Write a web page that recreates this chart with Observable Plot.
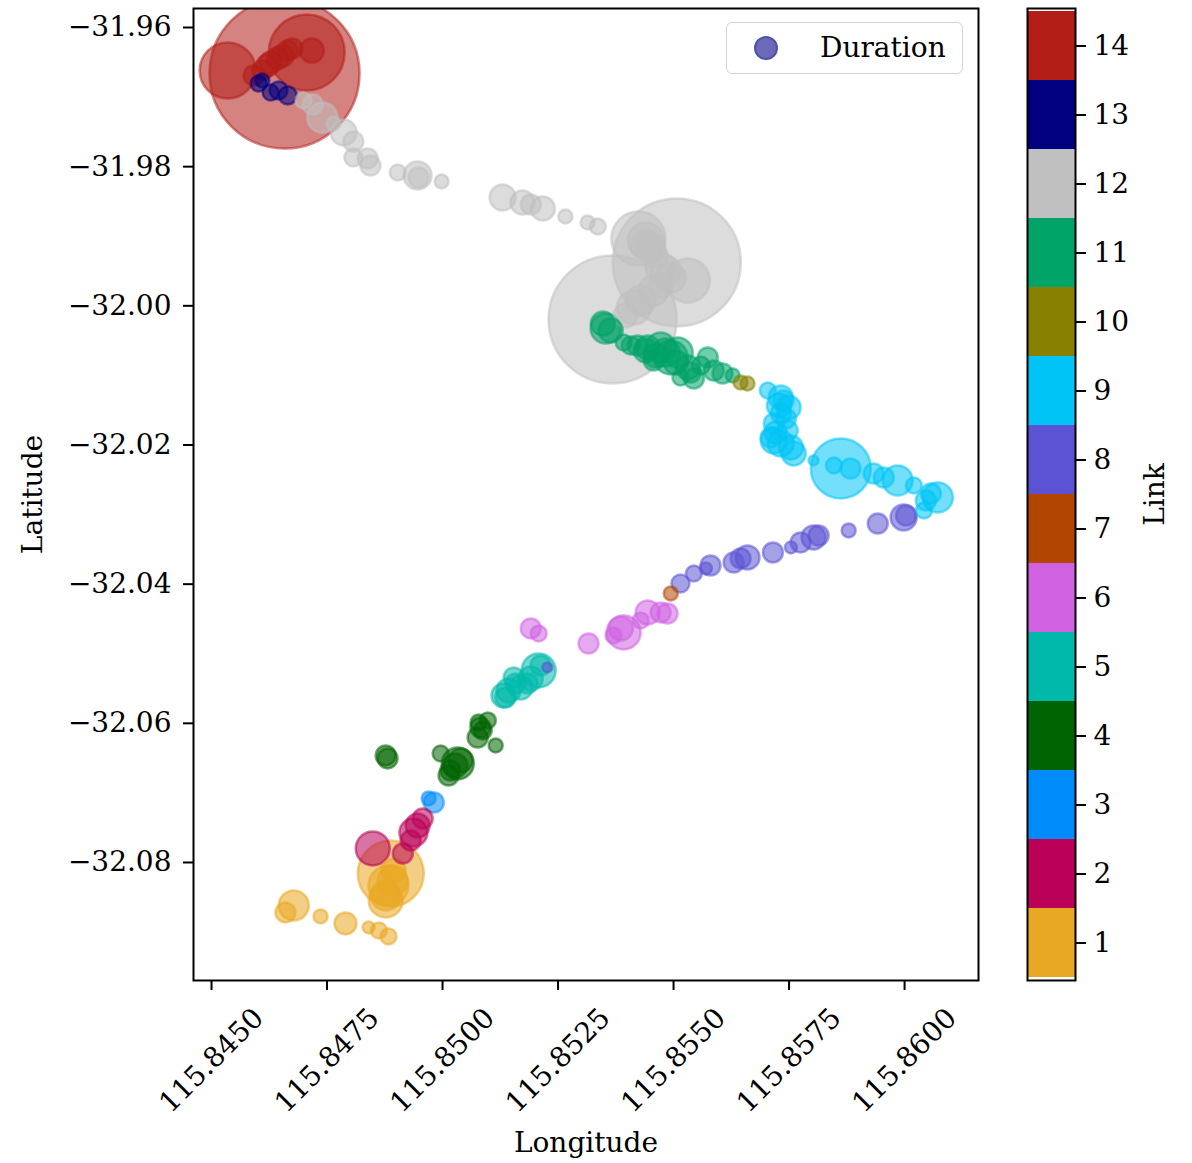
<!DOCTYPE html>
<html><head><meta charset="utf-8">
<script src="https://cdn.jsdelivr.net/npm/d3@7"></script>
<script src="https://cdn.jsdelivr.net/npm/@observablehq/plot@0.6"></script>
<style>
body{margin:0;background:#fff;}
#wrap{position:relative;width:1192px;height:1163px;font-family:"DejaVu Serif";background:#fff;}
#main{position:absolute;left:0;top:0;}
#cbar{position:absolute;left:1000px;top:0;}
#legend{position:absolute;left:726px;top:22px;width:235px;height:50px;border:1.5px solid #d4d4d4;border-radius:6px;background:rgba(255,255,255,0.8);}
#legend span{position:absolute;left:93px;top:0;line-height:50px;font-size:28px;color:#000;}
</style></head><body>
<div id="wrap"><div id="main"></div><div id="cbar"></div>
<div id="legend"><svg width="50" height="50" style="position:absolute;left:14px;top:0"><circle cx="25" cy="25" r="11" fill="#6a6ab9" stroke="#5050a8" stroke-width="2"/></svg><span>Duration</span></div>
</div>
<script>
const linkIds = [1,2,3,4,5,6,7,8,9,10,11,12,13,14];
const linkColors = ["#e9a823","#ba0057","#008bfb","#006400","#00b9ab","#d062e1","#b24500","#5b53d4","#00c4f5","#878000","#00a368","#c0c0c0","#000080","#b31e17"];
const xTicks = [115.845,115.8475,115.85,115.8525,115.855,115.8575,115.86];
const yTicks = [-31.96,-31.98,-32.00,-32.02,-32.04,-32.06,-32.08];

const link = [
 14,14,14,14,14,14,14,14,14,14,14,14,
 13,13,13,13,13,
 12,12,12,12,12,12,12,12,12,12,12,12,12,12,12,12,12,12,12,12,12,12,12,12,12,12,12,12,12,12,12,12,12,12,12,12,
 11,11,11,11,11,11,11,11,11,11,11,11,11,11,11,11,11,11,11,11,11,11,11,11,
 10,10,
 9,9,9,9,9,9,9,9,9,9,9,9,9,9,9,9,9,9,9,9,9,9,9,9,9,9,9,
 8,8,8,8,8,8,8,8,8,8,8,8,8,8,8,8,8,
 7,
 6,6,6,6,6,6,6,6,6,6,
 5,5,5,5,5,5,5,5,5,5,
 4,4,4,4,4,4,4,4,4,4,4,4,4,4,
 3,3,
 2,2,2,2,2,2,
 1,1,1,1,1,1,1,1,1,1,1,1,1
];
const lon = [
 115.84658,115.84535,115.84706,115.84717,115.84621,115.84643,115.84665,115.84591,115.84628,115.84654,115.84675,115.8461,
 115.84602,115.8461,115.84628,115.84645,115.84665,
 115.84699,115.84719,115.84764,115.84786,115.84807,115.84807,115.84838,115.84844,115.84903,115.84946,115.84948,115.84998,115.8513,115.85173,115.85191,115.85217,115.85266,115.85314,115.85336,115.85507,115.85368,115.85424,115.85531,115.8545,115.85472,115.85494,115.85457,115.85414,115.8544,
 115.8474,115.8544,115.85461,115.85483,115.85429,115.85396,115.85472,
 115.85353,115.85347,115.85392,115.85422,115.85444,115.85472,115.85494,115.85509,115.85531,115.85544,115.85574,115.85587,115.85606,115.85628,115.85457,115.85515,
 115.8544,115.85483,115.85505,115.85461,115.85537,115.85559,115.85364,115.85407,
 115.85645,115.8566,
 115.85704,115.85732,115.85749,115.85732,115.85717,115.85747,115.85717,115.85732,115.8576,115.85803,115.85862,115.85847,115.85883,115.85933,115.85955,115.85985,115.8602,115.86072,115.86042,
 115.85728,115.85743,115.85721,115.85754,115.85738,115.8571,115.86046,115.86057,
 115.85998,115.85942,115.85879,115.85803,115.85775,115.85715,115.85754,115.8566,115.8563,115.8558,115.8557,115.85544,115.85515,115.85227,
 115.85645,115.85814,115.86003,
 115.85494,
 115.85487,115.85444,115.85429,115.85392,115.8537,115.85316,115.85191,115.85208,115.85472,115.85386,
 115.85208,115.85154,115.85132,115.85184,115.85169,115.85143,115.85158,115.85191,115.85212,115.85136,
 115.85082,115.85098,115.85076,115.85115,115.84881,115.84996,115.85033,115.85013,115.85028,115.85039,115.85017,115.85087,115.85078,115.84877,
 115.84981,115.8497,
 115.84957,115.84937,115.84931,115.84849,115.84914,115.84946,
 115.84888,115.84883,115.84877,115.84894,115.84678,115.8466,115.84736,115.8479,115.8484,115.84862,115.84883,115.84892,115.84877
];
const lat = [
 -31.96661,-31.96618,-31.96359,-31.96331,-31.96546,-31.96445,-31.96331,-31.9669,-31.96503,-31.96402,-31.96302,-31.96618,
 -31.96805,-31.96762,-31.96934,-31.96905,-31.96977,
 -31.97049,-31.97106,-31.9738,-31.97509,-31.97638,-31.97868,-31.97882,-31.97983,-31.98084,-31.98127,-31.98156,-31.98213,-31.98443,-31.98515,-31.98543,-31.98601,-31.98716,-31.98802,-31.9886,-31.99377,-32.00196,-31.99032,-31.99636,-31.99161,-31.99449,-31.99593,-31.99779,-32.00024,-31.99061,
 -31.97293,-31.99133,-31.99276,-31.99492,-31.99923,-32.00139,-31.99707,
 -32.00325,-32.00254,-32.00527,-32.0057,-32.00598,-32.00598,-32.00742,-32.0067,-32.00886,-32.01044,-32.00742,-32.00929,-32.00972,-32.01001,-32.00785,-32.0103,
 -32.00642,-32.0067,-32.00814,-32.00713,-32.00958,-32.00857,-32.00354,-32.0057,
 -32.01101,-32.01116,
 -32.01216,-32.01317,-32.01461,-32.01547,-32.0169,-32.01791,-32.01935,-32.01978,-32.02122,-32.02222,-32.02337,-32.02294,-32.02337,-32.02409,-32.02467,-32.0251,-32.02581,-32.02754,-32.02941,
 -32.01432,-32.01619,-32.0182,-32.02035,-32.0136,-32.01892,-32.02797,-32.02696,
 -32.03041,-32.03128,-32.03228,-32.03329,-32.034,-32.03544,-32.03472,-32.03616,-32.03688,-32.03731,-32.03774,-32.03846,-32.0399,-32.05197,
 -32.0363,-32.033,-32.03013,
 -32.04133,
 -32.04421,-32.04406,-32.04521,-32.04694,-32.04737,-32.04852,-32.04636,-32.04708,-32.04406,-32.04636,
 -32.0524,-32.05341,-32.05599,-32.05427,-32.05484,-32.05527,-32.05427,-32.05355,-32.05168,-32.05628,
 -32.06059,-32.05958,-32.06203,-32.06318,-32.06504,-32.06433,-32.06576,-32.06749,-32.06605,-32.06533,-32.06677,-32.06102,-32.05987,-32.06461,
 -32.07137,-32.07079,
 -32.07367,-32.07568,-32.07683,-32.07798,-32.0787,-32.07467,
 -32.08157,-32.0833,-32.08545,-32.08114,-32.08617,-32.08717,-32.08775,-32.08876,-32.08933,-32.08976,-32.09062,-32.08258,-32.08473
];
const duration = [
 5625,784,1444,144,121,121,100,100,121,121,100,100,
 64,49,64,81,81,
 64,100,49,169,100,81,100,100,64,196,100,49,169,144,100,144,49,49,64,4096,4096,729,484,225,225,225,225,289,324,
 225,225,144,225,225,144,144,
 225,144,64,100,144,225,289,225,144,100,100,100,100,49,100,64,
 144,196,144,144,100,81,144,81,
 49,49,
 64,144,144,100,100,100,169,169,144,25,900,64,100,100,100,225,64,225,64,
 144,100,121,144,100,100,100,100,
 169,100,49,144,100,100,36,144,100,100,36,64,81,25,
 100,100,100,
 49,
 100,144,64,289,64,100,100,64,100,144,
 289,100,144,100,144,144,100,144,100,100,
 100,64,100,49,100,64,256,100,144,144,100,81,64,100,
 100,49,
 100,196,100,289,100,144,
 1089,400,289,144,225,100,49,121,36,64,64,225,225
];

const data = lon.map((x, i) => ({lon: x, lat: lat[i], link: link[i], duration: duration[i]}));
const color = {type: "ordinal", domain: linkIds, range: linkColors};
const font = {fontFamily: "DejaVu Serif", fontSize: "28px", color: "black", background: "transparent", overflow: "visible"};

const main = Plot.plot({
  width: 1000, height: 1163,
  marginLeft: 193, marginRight: 22, marginTop: 8, marginBottom: 183,
  style: font,
  x: {domain: [115.84461, 115.8616]},
  y: {domain: [-32.09696, -31.95727]},
  r: {type: "sqrt", domain: [0, 10000], range: [0, 100]},
  color,
  marks: [
    Plot.dot(data, {x: "lon", y: "lat", r: "duration", fill: "link", stroke: "link", fillOpacity: 0.55, strokeOpacity: 0.55, strokeWidth: 2.5, clip: true}),
    Plot.frame({stroke: "black", strokeWidth: 2}),
    Plot.axisY({ticks: yTicks, tickSize: 10, tickPadding: 12, strokeWidth: 2, tickFormat: d3.format(".2f"), label: "Latitude", labelAnchor: "center", labelArrow: "none", labelOffset: 171}),
    Plot.axisX({ticks: xTicks, tickSize: 10, strokeWidth: 2, tickFormat: () => "", label: null}),
    Plot.text(xTicks, {x: d => d, frameAnchor: "bottom", dy: 80, rotate: -45, text: d => d3.format(".4f")(d), textAnchor: "middle", lineAnchor: "middle"}),
    Plot.text(["Longitude"], {frameAnchor: "bottom", dy: 163, text: d => d, lineAnchor: "middle"})
  ]
});
document.getElementById("main").appendChild(main);

const cbar = Plot.plot({
  width: 192, height: 1163,
  marginTop: 8, marginBottom: 183, marginLeft: 27, marginRight: 117,
  style: font,
  x: {axis: null},
  y: {type: "band", domain: linkIds.slice().reverse(), padding: 0, axis: null},
  color,
  marks: [
    Plot.cell(linkIds, {y: d => d, fill: d => d}),
    Plot.frame({stroke: "black", strokeWidth: 2}),
    Plot.axisY({anchor: "right", tickSize: 10, tickPadding: 8, strokeWidth: 2, label: "Link", labelAnchor: "center", labelArrow: "none", labelOffset: 88})
  ]
});
document.getElementById("cbar").appendChild(cbar);
</script>
</body></html>
